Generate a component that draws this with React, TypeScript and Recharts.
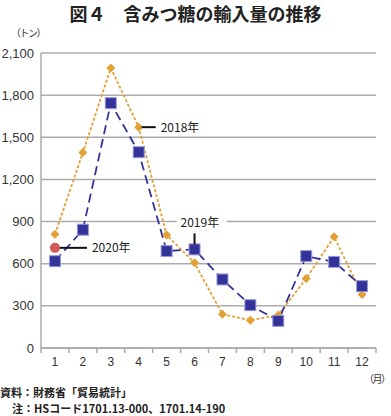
import { LineChart, Line, XAxis, YAxis, CartesianGrid } from "recharts";

const months = ["1", "2", "3", "4", "5", "6", "7", "8", "9", "10", "11", "12"];
const imports2018 = [809, 1391, 1993, 1572, 804, 606, 240, 198, 235, 495, 792, 381];
const imports2019 = [618, 842, 1743, 1394, 690, 702, 488, 305, 193, 654, 613, 440];
const imports2020 = [713, null, null, null, null, null, null, null, null, null, null, null];
const yTicks = [0, 300, 600, 900, 1200, 1500, 1800, 2100];

const FONT = '"Liberation Sans", Arial, "Noto Sans CJK JP", sans-serif';
const JP = '"Noto Sans CJK JP", sans-serif';

const BLUE = "#333399";
const ORANGE = "#e2a035";
const RED = "#d05858";
const GRID = "#ababab";

const data = months.map((m, i) => ({
  m,
  a: imports2018[i],
  b: imports2019[i],
  c: imports2020[i],
}));

// custom markers; the yearly labels hang off one point of each series
const Diamond = (p: any) => {
  const { cx, cy, index } = p;
  if (cx == null || cy == null) return null;
  const s = 4.5;
  return (
    <g key={`d-${index}`}>
      <polygon points={`${cx},${cy - s} ${cx + s},${cy} ${cx},${cy + s} ${cx - s},${cy}`} fill={ORANGE} />
      {index === 3 && (
        <g>
          <line x1={cx + 3} x2={cx + 17} y1={cy} y2={cy} stroke="#111" strokeWidth={2} />
          <text x={cx + 22} y={cy + 4.5} fontSize={12} fontFamily={JP} fill="#222">2018年</text>
        </g>
      )}
    </g>
  );
};

const Square = (p: any) => {
  const { cx, cy, index } = p;
  if (cx == null || cy == null) return null;
  return (
    <g key={`s-${index}`}>
      <rect x={cx - 5.5} y={cy - 5.5} width={11} height={11} fill={BLUE} stroke="#9a9ad8" strokeWidth={1} />
      {index === 5 && (
        <g>
          <line x1={cx} x2={cx} y1={cy - 16} y2={cy - 5} stroke="#111" strokeWidth={2} />
          <rect x={cx - 18} y={cy - 34} width={50} height={14} fill="#fff" />
          <text x={cx - 14} y={cy - 22} fontSize={12} fontFamily={JP} fill="#222">2019年</text>
        </g>
      )}
    </g>
  );
};

const Circle = (p: any) => {
  const { cx, cy, index } = p;
  if (cx == null || cy == null) return null;
  return (
    <g key={`c-${index}`}>
      <line x1={cx + 1} x2={cx + 32} y1={cy} y2={cy} stroke="#111" strokeWidth={2} />
      <circle cx={cx} cy={cy} r={5} fill={RED} />
      <text x={cx + 37} y={cy + 4.5} fontSize={12} fontFamily={JP} fill="#222">2020年</text>
    </g>
  );
};

const MonthTick = (p: any) => {
  const { x, y, payload } = p;
  const off = payload.offset || 14;
  return (
    <g>
      <line x1={x - off} x2={x - off} y1={y} y2={y + 5} stroke={GRID} strokeWidth={1.5} />
      {payload.value === "12" && (
        <line x1={x + off} x2={x + off} y1={y} y2={y + 5} stroke={GRID} strokeWidth={1.5} />
      )}
      <text x={x} y={y + 18} textAnchor="middle" fontSize={12} fontFamily={FONT} fill="#333">
        {payload.value}
      </text>
    </g>
  );
};

export default function App() {
  return (
    <div style={{ position: "absolute", left: 0, top: 0, width: 391, height: 416, background: "#fff" }}>
      <div
        style={{
          position: "absolute",
          top: 2,
          left: 0,
          width: 391,
          textAlign: "center",
          fontFamily: JP,
          fontWeight: 700,
          fontSize: 18,
          lineHeight: "22px",
          color: "#222",
        }}
      >
        図４　含みつ糖の輸入量の推移
      </div>
      <div style={{ position: "absolute", top: 25, left: 11, fontFamily: JP, fontSize: 10, color: "#333", letterSpacing: -1.5 }}>
        （トン）
      </div>
      <LineChart
        width={391}
        height={416}
        data={data}
        margin={{ top: 53, right: 15, bottom: 38, left: 0 }}
      >
        <CartesianGrid vertical={false} stroke={GRID} strokeWidth={1.5} />
        <XAxis
          dataKey="m"
          scale="band"
          height={30}
          axisLine={{ stroke: GRID, strokeWidth: 1.5 }}
          tickLine={false}
          tickSize={0}
          tickMargin={0}
          interval={0}
          tick={<MonthTick />}
        />
        <YAxis
          width={41}
          domain={[0, 2100]}
          ticks={yTicks}
          interval={0}
          axisLine={{ stroke: GRID, strokeWidth: 1.5 }}
          tickLine={false}
          tickMargin={1}
          tick={{ fontSize: 13, fontFamily: FONT, fill: "#333" }}
          tickFormatter={(v: number) => v.toLocaleString("en-US")}
        />
        <Line
          dataKey="a"
          stroke={ORANGE}
          strokeWidth={1.8}
          strokeDasharray="3 2"
          dot={<Diamond />}
          isAnimationActive={false}
        />
        <Line
          dataKey="b"
          stroke={BLUE}
          strokeWidth={1.8}
          strokeDasharray="9 5"
          dot={<Square />}
          isAnimationActive={false}
        />
        <Line dataKey="c" stroke={RED} dot={<Circle />} isAnimationActive={false} />
      </LineChart>
      <div style={{ position: "absolute", top: 371, left: 364, fontFamily: JP, fontSize: 10, color: "#333", letterSpacing: -1.5 }}>
        （月）
      </div>
      <div style={{ position: "absolute", top: 384, left: 0, fontFamily: JP, fontSize: 11, fontWeight: 700, color: "#222", lineHeight: "16px" }}>
        資料：財務省「貿易統計」
      </div>
      <div style={{ position: "absolute", top: 400, left: 12, fontFamily: JP, fontSize: 11, fontWeight: 700, color: "#222", lineHeight: "16px" }}>
        注：HSコード1701.13-000、1701.14-190
      </div>
    </div>
  );
}
